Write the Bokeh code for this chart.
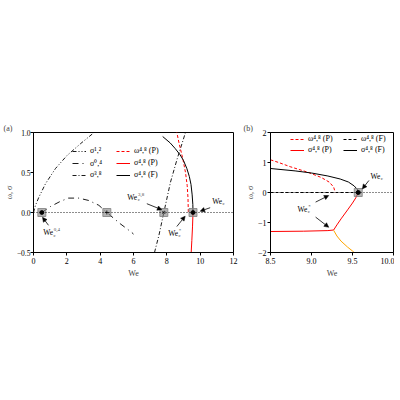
import math
from bokeh.plotting import figure
from bokeh.models import Range1d, FixedTicker, Span, Label, Arrow, NormalHead, Legend, LegendItem, ColumnDataSource
from bokeh.layouts import row
from bokeh.embed import file_html
from bokeh.resources import INLINE

FONT = "Liberation Serif"

# ---------------- data: panel (a) ----------------
s12_x = [0.0, 0.12, 0.32, 0.72, 1.32, 2.0, 2.82, 3.52, 3.62]
s12_y = [0.0, 0.09, 0.19, 0.36, 0.55, 0.71, 0.86, 0.98, 1.0]

s04_x = [0.5, 1.02, 1.62, 2.1, 2.72, 3.32, 3.92, 4.4, 5.2, 5.9, 6.0]
s04_y = [0.0, 0.075, 0.14, 0.18, 0.18, 0.15, 0.09, 0.0, -0.14, -0.25, -0.27]

s38_x = [7.26, 7.52, 7.82, 8.22, 8.62, 9.12]
s38_y = [-0.5, -0.29, 0.0, 0.38, 0.67, 1.0]

# shared 4,8 branches
omegaP_x = [8.5, 8.6, 8.74, 8.95, 9.12, 9.22, 9.27, 9.29]
omegaP_y = [1.09, 1.0, 0.86, 0.68, 0.5, 0.34, 0.18, 0.0]

sigmaP_x = [8.5, 8.9, 9.2, 9.27, 9.31, 9.36, 9.44, 9.5, 9.54, 9.57]
sigmaP_y = [-1.3, -1.29, -1.27, -1.25, -1.08, -0.88, -0.58, -0.35, -0.18, 0.0]

sigmaP2_x = [9.27, 9.31, 9.36, 9.44, 9.5, 9.52]
sigmaP2_y = [-1.26, -1.45, -1.62, -1.82, -1.95, -2.0]

sigmaF_x = [7.75, 8.2, 8.5, 8.8, 9.0, 9.2, 9.35, 9.45, 9.52, 9.56, 9.57]
sigmaF_y = [0.95, 0.87, 0.8, 0.72, 0.65, 0.55, 0.45, 0.35, 0.22, 0.1, 0.0]

omegaF_x = [8.5, 9.57]
omegaF_y = [0.0, 0.0]

crit_a_x = [0.5, 4.4, 7.82, 9.57]
crit_a_y = [0.0, 0.0, 0.0, 0.0]
crit_a_inner = ["circle", "cross", "x", "circle"]

crit_b_x = [9.57]
crit_b_y = [0.0]

xa_ticks = [0, 2, 4, 6, 8, 10, 12]
ya_ticks = [-0.5, 0.0, 0.5, 1.0]
ya_labels = ["\u22120.5", "0.0", "0.5", "1.0"]
xb_ticks = [8.5, 9.0, 9.5, 10.0]
xb_labels = ["8.5", "9.0", "9.5", "10.0"]
yb_ticks = [-2, -1, 0, 1, 2]
yb_labels = ["\u22122", "\u22121", "0", "1", "2"]


def style(p, panel_tag, tag_offset):
    p.xgrid.visible = False
    p.ygrid.visible = False
    p.outline_line_color = "black"
    p.outline_line_width = 1
    p.background_fill_color = "white"
    p.border_fill_color = "white"
    for ax in (p.xaxis[0], p.yaxis[0]):
        ax.major_label_text_font = FONT
        ax.major_label_text_font_size = "8px"
        ax.major_label_text_color = "black"
        ax.axis_label_text_font = FONT
        ax.axis_label_text_font_size = "8px"
        ax.axis_label_text_font_style = "normal"
        ax.axis_line_color = "black"
        ax.major_tick_line_color = "black"
        ax.major_tick_out = 3
        ax.major_tick_in = 0
        ax.minor_tick_out = 0
        ax.minor_tick_in = 0
        ax.major_label_standoff = 2
        ax.axis_label_standoff = 2
    p.yaxis.axis_label = "\u03c9, \u03c3"
    p.yaxis.axis_label_standoff = 0
    p.yaxis.major_label_standoff = 1
    p.title.text = panel_tag
    p.title.align = "left"
    p.title.offset = tag_offset
    p.title.standoff = 0
    p.title.text_font = FONT
    p.title.text_font_size = "8px"
    p.title.text_font_style = "normal"
    p.title.vertical_align = "bottom"


def we_label(p, x, y, sup=None):
    p.add_layout(Label(x=x, y=y, text="We", text_font=FONT, text_font_size="7.5px",
                       text_baseline="middle", text_align="left", text_color="black"))
    p.add_layout(Label(x=x, y=y, x_offset=10.3, y_offset=-2.5, text="c", text_font=FONT,
                       text_font_size="5px", text_baseline="middle", text_align="left"))
    if sup:
        p.add_layout(Label(x=x, y=y, x_offset=10.6, y_offset=3, text=sup, text_font=FONT,
                           text_font_size="5px", text_baseline="middle", text_align="left"))


def arrow(p, x0, y0, x1, y1):
    p.add_layout(Arrow(end=NormalHead(size=4.5, fill_color="black", line_color="black", line_width=0.5),
                       x_start=x0, y_start=y0, x_end=x1, y_end=y1,
                       line_color="black", line_width=0.8))


def legend(items, loc, label_width):
    lg = Legend(items=items, location=loc, ncols=2, label_text_font=FONT,
                label_text_font_size="8px", label_text_color="black", label_height=8, glyph_height=8,
                glyph_width=14, label_standoff=4, spacing=2, padding=0, margin=0,
                label_width=label_width, border_line_color=None,
                background_fill_alpha=0.0)
    return lg


# ---------------- panel (a) ----------------
pa = figure(width=240, height=390, output_backend="svg", toolbar_location=None,
            x_range=Range1d(0, 12), y_range=Range1d(-0.5, 1.0),
            min_border_left=33, min_border_right=7, min_border_top=132, min_border_bottom=138)
style(pa, "(a)", -30)
pa.yaxis.major_label_text_font_size = "7.5px"
pa.yaxis.major_label_standoff = 0
pa.xaxis.ticker = FixedTicker(ticks=xa_ticks)
pa.yaxis.ticker = FixedTicker(ticks=ya_ticks)
pa.yaxis.major_label_overrides = {t: l for t, l in zip(ya_ticks, ya_labels)}
pa.xaxis.axis_label = "We"

pa.add_layout(Span(location=0, dimension="width", line_color="black", line_width=0.9, line_dash="1 2"))

r12 = pa.line(s12_x, s12_y, line_color="black", line_width=0.9, line_dash="4 2 1 2 1 2")
r04 = pa.line(s04_x, s04_y, line_color="black", line_width=0.9, line_dash="6 4 1 4")
r38 = pa.line(s38_x, s38_y, line_color="black", line_width=0.9, line_dash="4 2 1 2")
rwp = pa.line(omegaP_x, omegaP_y, line_color="red", line_width=1, line_dash="3 2")
rsp = pa.line(sigmaP_x, sigmaP_y, line_color="red", line_width=1)
rsf = pa.line(sigmaF_x, sigmaF_y, line_color="black", line_width=1)

pa.scatter(crit_a_x, crit_a_y, marker="square", size=8, fill_color="gray", fill_alpha=0.6,
           line_color="gray", line_alpha=0.8)
src = ColumnDataSource(dict(x=crit_a_x, y=crit_a_y, m=crit_a_inner))
pa.scatter("x", "y", marker="m", source=src, size=4, fill_color="black", line_color="black", line_width=0.8)

pa.add_layout(legend([
    LegendItem(label="\u03c3\u00b9,\u00b2", renderers=[r12]),
    LegendItem(label="\u03c3\u2070,\u2074", renderers=[r04]),
    LegendItem(label="\u03c3\u00b3,\u2078", renderers=[r38]),
    LegendItem(label="\u03c9\u2074,\u2078 (P)", renderers=[rwp]),
    LegendItem(label="\u03c3\u2074,\u2078 (P)", renderers=[rsp]),
    LegendItem(label="\u03c3\u2074,\u2078 (F)", renderers=[rsf]),
], (39, 73), 24))

we_label(pa, 0.58, -0.25, "0,4")
arrow(pa, 0.9, -0.16, 0.54, -0.06)
we_label(pa, 5.63, 0.19, "3,8")
arrow(pa, 6.8, 0.11, 7.7, 0.034)
we_label(pa, 10.72, 0.14)
arrow(pa, 10.6, 0.06, 10.0, 0.016)
we_label(pa, 8.08, -0.26, "*")
arrow(pa, 8.6, -0.175, 9.1, -0.046)

# ---------------- panel (b) ----------------
pb = figure(width=154, height=390, output_backend="svg", toolbar_location=None,
            x_range=Range1d(8.5, 10.0), y_range=Range1d(-2, 2),
            min_border_left=30, min_border_right=1, min_border_top=132, min_border_bottom=138)
style(pb, "(b)", -27)
pb.xaxis.ticker = FixedTicker(ticks=xb_ticks)
pb.xaxis.major_label_overrides = {t: l for t, l in zip(xb_ticks, xb_labels)}
pb.yaxis.ticker = FixedTicker(ticks=yb_ticks)
pb.yaxis.major_label_overrides = {t: l for t, l in zip(yb_ticks, yb_labels)}
pb.xaxis.axis_label = "We"

pb.add_layout(Span(location=0, dimension="width", line_color="black", line_width=0.9, line_dash="1 2"))

bwp = pb.line(omegaP_x, omegaP_y, line_color="red", line_width=1, line_dash="3 2")
bsp = pb.line(sigmaP_x, sigmaP_y, line_color="red", line_width=1)
pb.line(sigmaP2_x, sigmaP2_y, line_color="orange", line_width=1)
bwf = pb.line(omegaF_x, omegaF_y, line_color="black", line_width=1, line_dash="3 2")
bsf = pb.line(sigmaF_x, sigmaF_y, line_color="black", line_width=1)

pb.scatter(crit_b_x, crit_b_y, marker="square", size=8, fill_color="gray", fill_alpha=0.6,
           line_color="gray", line_alpha=0.8)
pb.scatter(crit_b_x, crit_b_y, marker="circle", size=4, fill_color="black", line_color="black")

pb.add_layout(legend([
    LegendItem(label="\u03c9\u2074,\u2078 (P)", renderers=[bwp]),
    LegendItem(label="\u03c3\u2074,\u2078 (P)", renderers=[bsp]),
    LegendItem(label="\u03c9\u2074,\u2078 (F)", renderers=[bwf]),
    LegendItem(label="\u03c3\u2074,\u2078 (F)", renderers=[bsf]),
], (20, 98), 33))

we_label(pb, 9.72, 0.55)
arrow(pb, 9.70, 0.4, 9.62, 0.12)
we_label(pb, 8.83, -0.55, "*")
arrow(pb, 9.05, -0.32, 9.21, -0.1)
arrow(pb, 9.05, -0.82, 9.21, -1.16)

layout = row(pa, pb)
open("out.html", "w").write(file_html(layout, INLINE))
